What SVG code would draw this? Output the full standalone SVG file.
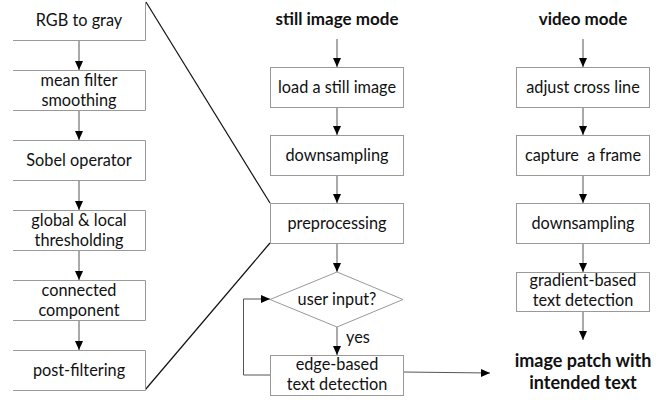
<svg xmlns="http://www.w3.org/2000/svg" width="658" height="400" viewBox="0 0 658 400">
<style>
.box{fill:#fff;stroke:#999;stroke-width:1}
.t{font-family:Lato,"Open Sans","Liberation Sans",sans-serif;font-size:16.3px;fill:#111;text-anchor:middle}
.b{font-weight:bold;font-size:17px}
.p{font-size:18px}
.c{fill:none;stroke:#555;stroke-width:1}
.z{fill:none;stroke:#111;stroke-width:1.2}
</style>
<defs>
<marker id="ah" markerWidth="10" markerHeight="10" refX="9" refY="5" orient="auto" markerUnits="userSpaceOnUse">
<path d="M0,1 L9,5 L0,9 Z" fill="#000"/>
</marker>
</defs>
<rect width="658" height="400" fill="#fff"/>
<g id="connectors">
<line class="c" x1="79" y1="40" x2="79" y2="70" marker-end="url(#ah)"/>
<line class="c" x1="79" y1="110" x2="79" y2="140" marker-end="url(#ah)"/>
<line class="c" x1="79" y1="180" x2="79" y2="210" marker-end="url(#ah)"/>
<line class="c" x1="79" y1="250" x2="79" y2="280" marker-end="url(#ah)"/>
<line class="c" x1="79" y1="320" x2="79" y2="350" marker-end="url(#ah)"/>
<line class="z" x1="146" y1="2" x2="270" y2="203"/>
<line class="z" x1="145" y1="390" x2="270" y2="243"/>
<line class="c" x1="337" y1="39" x2="337" y2="67" marker-end="url(#ah)"/>
<line class="c" x1="337" y1="107" x2="337" y2="135" marker-end="url(#ah)"/>
<line class="c" x1="337" y1="175" x2="337" y2="203" marker-end="url(#ah)"/>
<line class="c" x1="337" y1="243" x2="337" y2="272" marker-end="url(#ah)"/>
<line class="c" x1="337" y1="327" x2="337" y2="355" marker-end="url(#ah)"/>
<polyline class="c" points="270,375 243.5,375 243.5,299 270,299" marker-end="url(#ah)"/>
<line class="c" x1="403" y1="372" x2="490" y2="373" marker-end="url(#ah)"/>
<line class="c" x1="583" y1="39" x2="583" y2="67" marker-end="url(#ah)"/>
<line class="c" x1="583" y1="107" x2="583" y2="135" marker-end="url(#ah)"/>
<line class="c" x1="583" y1="175" x2="583" y2="203" marker-end="url(#ah)"/>
<line class="c" x1="583" y1="243" x2="583" y2="272" marker-end="url(#ah)"/>
<line class="c" x1="583" y1="311" x2="583" y2="340" marker-end="url(#ah)"/>
</g>
<g id="rgb"><path class="box" d="M13,40.5 H145.5 V2"/><text class="t" x="79" y="26">RGB to gray</text></g>
<g id="mean"><path class="box" d="M13,70.5 H145.5 V110.5 H13"/><text class="t" x="79" y="86">mean filter</text><text class="t" x="79" y="106">smoothing</text></g>
<g id="sobel"><path class="box" d="M13,140.5 H145.5 V180.5 H13"/><text class="t" x="79" y="166">Sobel operator</text></g>
<g id="thresh"><path class="box" d="M13,210.5 H145.5 V250.5 H13"/><text class="t" x="79" y="226">global &amp; local</text><text class="t" x="79" y="246">thresholding</text></g>
<g id="cc"><path class="box" d="M13,280.5 H145.5 V320.5 H13"/><text class="t" x="79" y="296">connected</text><text class="t" x="79" y="316">component</text></g>
<g id="post"><path class="box" d="M13,350.5 H145.5 V390.5 H13"/><text class="t" x="79" y="376">post-filtering</text></g>
<g id="still"><text class="t b" x="337" y="25">still image mode</text></g>
<g id="load"><rect class="box" x="270.5" y="67.5" width="133" height="40"/><text class="t" x="337" y="93">load a still image</text></g>
<g id="down1"><rect class="box" x="270.5" y="135.5" width="133" height="40"/><text class="t" x="337" y="161">downsampling</text></g>
<g id="pre"><rect class="box" x="270.5" y="203.5" width="133" height="40"/><text class="t" x="337" y="229">preprocessing</text></g>
<g id="user"><polygon class="box" points="337,272 403,299.5 337,327 270,299.5"/><text class="t" x="337" y="305">user input?</text></g>
<g id="edge"><rect class="box" x="270.5" y="355.5" width="133" height="40"/><text class="t" x="337" y="370">edge-based</text><text class="t" x="337" y="390">text detection</text></g>
<g id="yes"><text class="t" x="358" y="343">yes</text></g>
<g id="video"><text class="t b" x="583" y="25">video mode</text></g>
<g id="adjust"><rect class="box" x="516.5" y="67.5" width="133" height="40"/><text class="t" x="583" y="93">adjust cross line</text></g>
<g id="capture"><rect class="box" x="516.5" y="135.5" width="133" height="40"/><text class="t" x="583" y="161" xml:space="preserve">capture  a frame</text></g>
<g id="down2"><rect class="box" x="516.5" y="203.5" width="133" height="40"/><text class="t" x="583" y="229">downsampling</text></g>
<g id="grad"><rect class="box" x="516.5" y="272.5" width="133" height="39"/><text class="t" x="583" y="286">gradient-based</text><text class="t" x="583" y="306">text detection</text></g>
<g id="patch"><text class="t b p" x="583" y="367">image patch with</text><text class="t b p" x="583" y="389">intended text</text></g>
</svg>
